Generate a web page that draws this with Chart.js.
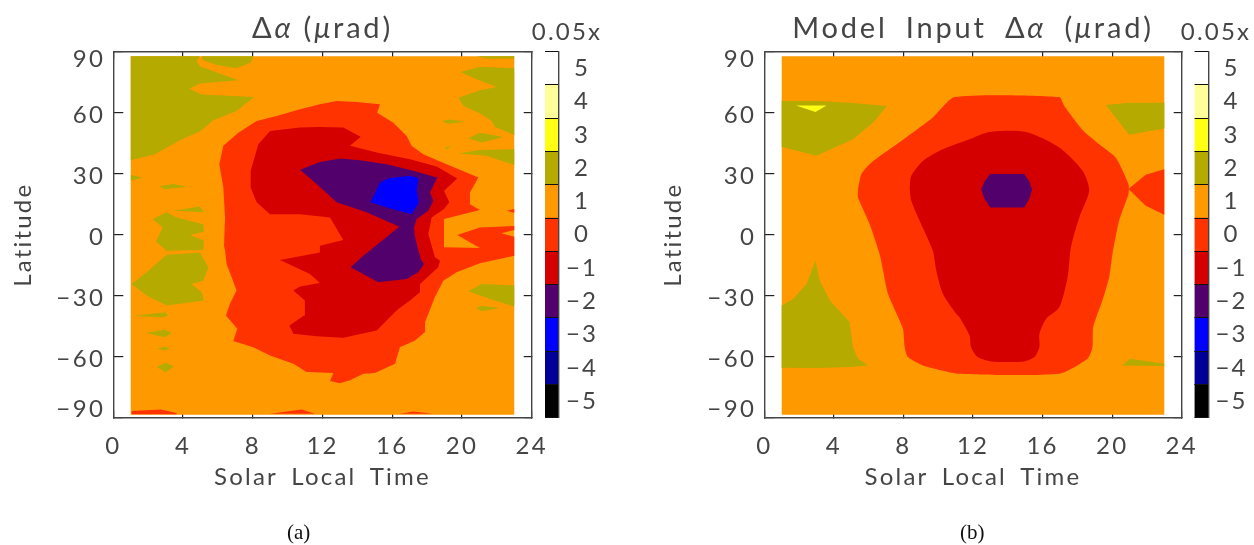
<!DOCTYPE html>
<html>
<head>
<meta charset="utf-8">
<script src="https://cdn.jsdelivr.net/npm/chart.js@4"></script>
<style>
  html, body { margin: 0; background: #fff; width: 1254px; height: 545px; overflow: hidden; }
  canvas { position: absolute; top: 0; filter: blur(0.3px); }
  .cap { position: absolute; top: 520px; font: 21px "Liberation Serif"; color: #111; }
</style>
</head>
<body>
<canvas id="plotA" width="560" height="545" style="left:0"></canvas>
<canvas id="barA" width="110" height="545" style="left:512px"></canvas>
<canvas id="plotB" width="560" height="545" style="left:650px"></canvas>
<canvas id="barB" width="110" height="545" style="left:1161px"></canvas>
<div class="cap" style="left:287px">(a)</div>
<div class="cap" style="left:960px">(b)</div>
<script>
// colour bar
const bandLabels = ['5', '4', '3', '2', '1', '0', '\u22121', '\u22122', '\u22123', '\u22124', '\u22125'];
const bandColors = ['#ffffff', '#ffff99', '#ffff14', '#b4aa00', '#ff9900', '#ff3300', '#d40000', '#52006b', '#0000ff', '#000099', '#000000'];
const bandFill = [1, 1, 1, 1, 1, 1, 1, 1, 1, 1, 1];

// axes
const hourTicks = [0, 4, 8, 12, 16, 20, 24];
const latTicks = [-90, -60, -30, 0, 30, 60, 90];

// contour outlines: [solar local time, latitude]
const field = [[1, 87.8], [23, 87.8], [23, -88.5], [1, -88.5]];

// panel (a), level 2
const aOliveNW = [[1, 87.8], [4.97, 87.8], [4.78, 85.4], [4.97, 82.9], [7.17, 75.9], [4.97, 74.3], [4.36, 71.8], [5.07, 69], [8.07, 67.7], [7.07, 60.8], [5.74, 56.3], [4.97, 50.7], [3.82, 46.5], [2.39, 39.6], [1, 36.6]];
const aOliveTop = [[5.07, 87.8], [8.03, 87.8], [7.88, 84.6], [7.04, 81.8], [5.93, 83.4], [5.16, 85.7]];
const aOliveEdge = [[1, 29.4], [1.7, 28.1], [1, 26.5]];
const aOliveFleck1 = [[2.64, 23.9], [3.44, 24.9], [4.24, 23.6], [2.96, 22.4]];
const aOliveFleck2 = [[3.44, 11.8], [4.97, 13.9], [5.2, 11], [4.4, 11.4]];
const aOliveEq = [[2.26, 7.7], [3.06, 11], [3.63, 8.5], [5.16, 5.2], [5.2, 1.5], [4.4, -0.2], [5.2, -2.9], [5.16, -7.5], [3.06, -7.9], [2.45, -3.3], [2.83, 3.6]];
const aOliveSouth = [[1.05, -24.2], [1.91, -18.5], [3.06, -9.8], [4.97, -8.7], [5.45, -16], [5.16, -22.6], [4.49, -24.2], [5.07, -28.3], [5.2, -32.4], [3.06, -34.8], [1.91, -29.9]];
const aOliveS1 = [[1.15, -40], [2.96, -38.1], [3.15, -39.7], [2.87, -40.6]];
const aOliveS2 = [[1.87, -48.3], [2.96, -46.8], [3.35, -48.3], [2.96, -50.4]];
const aOliveS3 = [[2.49, -56.1], [2.96, -55.1], [3.25, -55.9], [2.96, -56.9]];
const aOliveS4 = [[2.49, -65.1], [3, -63], [3.48, -64.8], [3, -67.6]];
const aOliveTopR = [[20.84, 87.8], [23, 87.8], [23, 86.7], [21.4, 86.7]];
const aOliveNE = [[23, 81.8], [21.03, 82.6], [19.9, 80], [20.84, 76.4], [21.99, 72.6], [21.03, 71], [19.79, 67.4], [20.08, 63.3], [21.13, 59.2], [21.7, 55.9], [21.89, 53], [23, 49]];
const aOliveR1 = [[18.84, 55.9], [19.31, 56.6], [20.17, 55.6], [19.22, 54.6]];
const aOliveR2 = [[20.36, 47.4], [21.03, 50.1], [22.37, 48.1], [21.13, 45.3]];
const aOliveR3 = [[19.02, 42.9], [19.4, 43.5], [19.12, 41.9]];
const aOliveR4 = [[19.79, 39.9], [21.03, 41.7], [23, 42], [23, 34.3], [21.4, 38.8]];
const aOliveR5 = [[20.36, -27.8], [21.13, -24.2], [23, -25], [23, -35.3], [21.6, -31.6]];
const aOliveR6 = [[20.81, -36], [21.13, -35], [22.18, -36], [21.13, -37.6]];

// panel (a), levels 0 to -3
const aZero = [
  [6.31, 43.7], [7.17, 50.2], [8.22, 55.9], [9.37, 58.4], [10.71, 61.7], [11.85, 64.1], [12.81, 65.8], [13.96, 65.3],
  [15.3, 64.1], [15.14, 60], [16.06, 55.1], [16.83, 48.6], [17.11, 43.7], [17.78, 39.6], [19.12, 34.7], [20.94, 28.1],
  [20.46, 20.8], [20.46, 15], [21.03, 12.1], [18.97, 7.7], [18.97, -6.2], [21.03, -6.5], [19.73, -0.2], [21.03, 3.6],
  [23, 4.3], [23, 2.3], [22.27, 0.7], [23, -1], [23, -10.3], [21.03, -14.1], [19.69, -18.5], [18.93, -22.6],
  [18.45, -30.7], [17.88, -43], [17.88, -47.9], [17.31, -52], [16.44, -55.3], [16.16, -63.5], [15.01, -68], [14.34, -68.4],
  [13.58, -71.6], [13, -73], [12.43, -72], [12.62, -68], [11.09, -67.5], [10.33, -63.5], [8.99, -59.4], [8.03, -55.3],
  [6.88, -52.3], [7.11, -46.3], [6.46, -39.7], [6.69, -34], [7.07, -27.5], [6.79, -20.9], [6.5, -14.4], [6.41, -7.9],
  [6.35, -5.4], [6.41, 8.5], [6.31, 23.2], [6.08, 34.7]
];
const aZeroEdge = [[22.56, 11.8], [23, 12.6], [23, 10.8]];
const aZeroS1 = [[1.05, -86.7], [2.72, -86], [3.63, -87.7], [3.63, -88.3], [1.05, -88.3]];
const aZeroS2 = [[8.99, -88], [10.8, -86], [11.57, -88]];
const aZeroS3 = [[16.44, -88], [17.2, -86.9], [18.36, -88]];
const aMinusOne = [
  [7.88, 31.4], [8.32, 44.5], [8.99, 51], [10.71, 52.7], [11.85, 53], [13.19, 52.7], [14.19, 48.2], [13.58, 43.7],
  [15.11, 40.4], [17.02, 37.1], [18.55, 33.5], [19.73, 27.6], [18.97, 21.6], [19.27, 15.9], [18.97, 12.6], [18.26, 8.5],
  [18.07, 0.3], [18.45, -11.1], [18.74, -12.8], [18.64, -16], [17.59, -24.2], [17.59, -28.3], [17.02, -32.4], [16.35, -36.5],
  [16.06, -38.9], [15.11, -47.1], [13.19, -50.7], [11.66, -50], [10.33, -48.7], [10.1, -44.7], [10.94, -39.7], [10.99, -32.4],
  [10.33, -27.5], [10.71, -25.5], [11.85, -23.7], [11.28, -19.3], [9.56, -12.4], [11.85, -8.7], [11.85, -5.4], [13.19, -2.6],
  [12.43, 8.5], [10.71, 10.1], [11.09, 10.1], [8.99, 10.1], [8.22, 15.9], [7.88, 23.2]
];
const aMinusTwo = [
  [10.71, 31.9], [11.85, 35.8], [13, 37.5], [14.15, 36.6], [15.68, 34.7], [17.21, 31.4], [18.58, 28.1], [18.17, 20.8],
  [18.36, 16.7], [18.07, 11.8], [17.4, 7.7], [17.25, 3.6], [17.31, -1.3], [17.63, -11.9], [17.82, -14.4], [17.5, -18.5],
  [16.83, -21.8], [15.2, -23.4], [13.61, -16], [14.34, -10.3], [16.4, 3.9], [14.53, 11], [12.81, 15.9], [11.66, 24.9]
];
const aMinusThree = [[14.76, 15.9], [15.3, 25.7], [15.8, 27.8], [17.02, 29], [17.5, 27.8], [17.4, 21.6], [17.53, 15.9], [17.11, 10.1], [15.8, 13.1]];

// panel (b)
const bOliveNW = [[1, 65.8], [3, 65.8], [4.91, 64.9], [7.06, 63.3], [6.25, 55.1], [5.1, 46.9], [3, 38.8], [1, 43.2]];
const bYellow = [[1.82, 63.6], [3.58, 63.6], [2.94, 60.4]];
const bOliveNE = [[19.64, 63.8], [20.97, 64.9], [23, 64.9], [23, 52.2], [20.97, 49.1]];
const bOliveSW = [[1, -34.8], [1.66, -31.6], [2.43, -24.2], [2.94, -12.8], [3.19, -22.6], [3.77, -32.4], [4.91, -43], [5.1, -55.3], [5.39, -61], [5.97, -64.3], [4.91, -65.1], [3, -65.6], [1, -65.4]];
const bOliveSE = [[20.56, -64.3], [21.03, -61], [23, -63.5], [23, -64.6]];
const bZero = [
  [5.39, 22.4], [5.58, 29.8], [6.16, 35.5], [8.16, 47.8], [9.69, 57.6], [10.94, 67.7], [16.96, 67.7], [17.25, 63.3],
  [18.3, 51.5], [19.25, 44.5], [20.21, 37.9], [20.94, 24.9],
  [20.94, 20], [20.4, 6.9], [20.02, -9.4], [19.83, -20.9], [19.44, -32.4], [18.91, -45.5], [18.87, -55.3], [18.58, -61],
  [16.96, -68.4], [11.22, -68.4], [9.12, -64.3], [8.26, -60.2], [8.07, -55.3], [7.97, -46.3], [7.11, -29.1], [6.83, -17.7],
  [6.63, -9.5], [6.06, 5.2], [5.39, 18.3]
];
const bZeroTongue = [[20.94, 22.5], [21.93, 29.5], [23, 32.2], [23, 9.8], [21.93, 14.2]];
const bMinusOne = [
  [8.36, 23.2], [8.45, 29], [9.12, 36.3], [10.27, 42], [11.8, 46.9], [12.94, 50.5], [15.05, 50.5], [16.96, 42.9],
  [18.3, 31.4], [18.68, 21.6], [18.11, 8.5], [17.63, -6.2], [17.44, -20.9], [16.96, -35.7], [16.2, -41.4], [15.82, -48.7],
  [15.82, -55.3], [15.53, -60.2], [14.95, -62.3], [13.04, -62.3], [12.27, -60.2], [11.89, -55.3], [11.8, -49.6], [11.22, -40.6],
  [11.03, -38.9], [10.27, -29.1], [9.89, -17.7], [9.69, -7.9], [9.02, 5.2], [8.45, 16.7]
];
const bMinusTwo = [[12.47, 22.4], [12.66, 26.2], [12.98, 29.8], [14.95, 29.8], [15.24, 26.2], [15.4, 22.4], [15.24, 17.7], [14.95, 13.4], [12.98, 13.4], [12.66, 17.7]];

const ink = '#454545';
const textFont = 'Lato';

// painted bottom to top
const panelA = [
  ['1', field],
  ['2', aOliveNW], ['2', aOliveTop], ['2', aOliveEdge], ['2', aOliveFleck1], ['2', aOliveFleck2], ['2', aOliveEq],
  ['2', aOliveSouth], ['2', aOliveS1], ['2', aOliveS2], ['2', aOliveS3], ['2', aOliveS4], ['2', aOliveTopR],
  ['2', aOliveNE], ['2', aOliveR1], ['2', aOliveR2], ['2', aOliveR3], ['2', aOliveR4], ['2', aOliveR5], ['2', aOliveR6],
  ['0', aZero], ['0', aZeroEdge], ['0', aZeroS1], ['0', aZeroS2], ['0', aZeroS3],
  ['\u22121', aMinusOne], ['\u22122', aMinusTwo], ['\u22123', aMinusThree]
];
const panelB = [
  ['1', field],
  ['2', bOliveNW], ['3', bYellow], ['2', bOliveNE], ['2', bOliveSW], ['2', bOliveSE],
  ['0', bZero, 0.2], ['0', bZeroTongue], ['\u22121', bMinusOne, 0.25], ['\u22122', bMinusTwo]
];

const spacing = {
  id: 'spacing',
  beforeUpdate(chart) {
    chart.ctx.letterSpacing = '2.2px';
    chart.ctx.wordSpacing = '5px';
  }
};

// title has italic letters, and the y labels at the ends sit inside the frame
const panelText = {
  id: 'panelText',
  afterDraw(chart, args, opts) {
    const { ctx, chartArea, scales } = chart;
    ctx.save();
    ctx.fillStyle = ink;
    ctx.textBaseline = 'alphabetic';
    ctx.textAlign = 'left';
    ctx.letterSpacing = '2.8px';
    ctx.wordSpacing = '8px';

    const fontOf = part => `${part.italic ? 'italic ' : ''}29px ${textFont}`;
    let width = 0;
    opts.title.forEach(part => {
      ctx.font = fontOf(part);
      width += ctx.measureText(part.text).width;
    });
    let x = (chartArea.left + chartArea.right) / 2 - width / 2;
    opts.title.forEach(part => {
      ctx.font = fontOf(part);
      ctx.fillText(part.text, x, 38);
      x += ctx.measureText(part.text).width;
    });

    ctx.letterSpacing = '2.4px';
    ctx.font = `24px ${textFont}`;
    ctx.textAlign = 'right';
    ctx.textBaseline = 'middle';
    scales.y.ticks.forEach(tick => {
      let y = scales.y.getPixelForValue(tick.value) + 3;
      if (tick.value === 90) y = chartArea.top + 8;
      if (tick.value === -90) y = chartArea.bottom - 8;
      ctx.fillText(tick.value < 0 ? '\u2212' + Math.abs(tick.value) : String(tick.value), chartArea.left - 8, y);
    });
    ctx.restore();
  }
};

function frameAxis(position, ticks, min, max, length, size) {
  return {
    type: 'linear',
    position,
    min,
    max,
    afterBuildTicks: scale => { scale.ticks = ticks.map(value => ({ value })); },
    afterFit: scale => {
      if (scale.isHorizontal()) {
        scale.height = size;
        scale.paddingLeft = 0;
        scale.paddingRight = 0;
      } else {
        scale.width = size;
        scale.paddingTop = 0;
        scale.paddingBottom = 0;
      }
    },
    border: { color: ink, width: 1.4 },
    grid: { drawOnChartArea: false, color: '#222', lineWidth: 1.2, tickLength: -length },
    ticks: { display: false }
  };
}

function createContourChart(id, rings, title, left) {
  const x = frameAxis('bottom', hourTicks, 0, 24, 7, 77.3);
  x.ticks = { display: true, color: ink, font: { family: textFont, size: 24 }, padding: 21, maxRotation: 0, callback: v => v };
  x.title = { display: true, text: 'Solar Local Time', color: ink, font: { family: textFont, size: 24 }, padding: { top: 3, bottom: 3 } };

  const y = frameAxis('left', latTicks, -90, 90, 10, left);
  y.title = { display: true, text: 'Latitude', color: ink, font: { family: textFont, size: 24 }, padding: { top: 9, bottom: 0 } };

  return new Chart(document.getElementById(id), {
    type: 'scatter',
    data: {
      datasets: rings.map(([band, ring, curve], i) => ({
        data: ring.concat([ring[0]]).map(p => ({ x: p[0], y: p[1] })),
        showLine: true,
        fill: 'shape',
        backgroundColor: bandColors[bandLabels.indexOf(band)],
        borderWidth: 0,
        pointRadius: 0,
        tension: curve || 0,
        order: rings.length - i
      }))
    },
    options: {
      responsive: false,
      animation: false,
      layout: { padding: { top: 51.7, right: 28.3, bottom: 50, left: 0 } },
      plugins: { legend: { display: false }, tooltip: { enabled: false }, panelText: { title } },
      scales: {
        x,
        y,
        xTop: frameAxis('top', hourTicks, 0, 24, 7, 0),
        yRight: frameAxis('right', latTicks, -90, 90, 8, 0)
      }
    },
    plugins: [spacing, panelText]
  });
}

function createColorBar(id, left) {
  return new Chart(document.getElementById(id), {
    type: 'bar',
    data: {
      labels: bandLabels,
      datasets: [{
        data: bandFill,
        xAxisID: 'x',
        yAxisID: 'y',
        backgroundColor: bandColors,
        borderWidth: 0,
        barPercentage: 1,
        categoryPercentage: 1
      }]
    },
    options: {
      indexAxis: 'y',
      responsive: false,
      animation: false,
      layout: { padding: { top: 0, right: 0, bottom: 127.3, left: 0 } },
      plugins: {
        legend: { display: false },
        tooltip: { enabled: false },
        title: { display: true, text: '0.05x', color: ink, font: { family: textFont, size: 24, weight: 'normal' }, padding: { top: 18, bottom: 4.9 } }
      },
      scales: {
        x: { display: false, min: 0, max: 1 },
        y: {
          position: 'right',
          afterFit: scale => { scale.width = 110 - left - 14; },
          border: { color: ink, width: 1.4, z: 1 },
          grid: { offset: true, color: '#111', lineWidth: 1, drawTicks: false, z: 1 },
          ticks: { color: ink, font: { family: textFont, size: 24 }, padding: 7, crossAlign: 'center', autoSkip: false }
        },
        yGap: {
          type: 'linear',
          position: 'left',
          afterFit: scale => { scale.width = left; },
          border: { display: false },
          grid: { display: false },
          ticks: { display: false }
        }
      }
    },
    plugins: [spacing]
  });
}

createContourChart('plotA', panelA, [{ text: '\u0394' }, { text: '\u03b1', italic: true }, { text: ' (' }, { text: '\u03bc', italic: true }, { text: 'rad)' }], 113.3);
createContourChart('plotB', panelB, [{ text: 'Model Input \u0394' }, { text: '\u03b1', italic: true }, { text: ' (' }, { text: '\u03bc', italic: true }, { text: 'rad)' }], 114.3);
createColorBar('barA', 33);
createColorBar('barB', 33.5);
</script>
</body>
</html>
